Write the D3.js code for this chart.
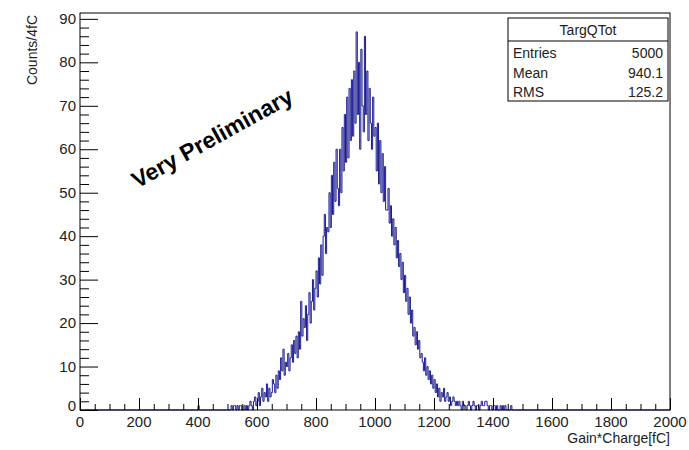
<!DOCTYPE html>
<html>
<head>
<meta charset="utf-8">
<script src="https://cdn.jsdelivr.net/npm/d3@7"></script>
<style>
  body { margin: 0; background: #fff; }
  text { font-family: "Liberation Sans", Arial, sans-serif; }
</style>
</head>
<body>
<svg id="chart" width="689" height="450"></svg>
<script>
// Histogramme TargQTot : bins de 4 fC, de 400 a 1480 fC (zéro ailleurs)
const binWidth = 4
const firstBin = 400
const counts = [
    1, 0, 0, 0, 0, 0, 0, 0, 0, 0,
    0, 0, 0, 0, 0, 0, 0, 0, 0, 0,
    0, 0, 0, 0, 0, 0, 0, 0, 1, 0,
    1, 1, 0, 1, 0, 1, 1, 0, 0, 1,
    0, 1, 0, 1, 2, 1, 0, 2, 3, 1,
    2, 4, 1, 3, 5, 2, 4, 3, 6, 2,
    5, 3, 4, 7, 6, 4, 8, 5, 9, 7,
    12, 9, 14, 8, 11, 10, 13, 9, 12, 15,
    11, 16, 13, 17, 12, 18, 14, 25, 17, 21,
    19, 24, 16, 22, 27, 20, 25, 30, 23, 28,
    32, 26, 35, 29, 38, 31, 40, 45, 36, 42,
    41, 50, 42, 54, 45, 57, 48, 60, 51, 47,
    60, 50, 65, 55, 68, 57, 72, 58, 74, 62,
    76, 63, 78, 66, 87, 68, 80, 60, 83, 70,
    64, 86, 68, 78, 62, 74, 66, 60, 72, 63,
    65, 55, 66, 52, 62, 50, 59, 48, 56, 46,
    46, 51, 43, 47, 40, 44, 38, 42, 35, 39,
    33, 36, 30, 34, 27, 31, 25, 28, 22, 26,
    20, 23, 17, 19, 15, 18, 14, 16, 12, 13,
    11, 9, 12, 8, 10, 7, 9, 6, 8, 5,
    7, 4, 6, 3, 5, 2, 4, 3, 5, 2,
    3, 4, 2, 3, 1, 2, 3, 2, 1, 2,
    1, 2, 1, 0, 2, 1, 1, 0, 1, 2,
    1, 0, 1, 2, 1, 0, 1, 1, 0, 1,
    2, 1, 1, 2, 2, 1, 0, 1, 1, 0,
    1, 1, 0, 1, 0, 0, 1, 0, 1, 0,
    1, 0, 0, 0, 0, 1, 0, 0, 0, 0
]

const xTicks = [0, 200, 400, 600, 800, 1000, 1200, 1400, 1600, 1800, 2000]
const yTicks = [0, 10, 20, 30, 40, 50, 60, 70, 80, 90]
const statsLabels = ["Entries", "Mean", "RMS"]
const statsValues = ["5000", "940.1", "125.2"]

const svg = d3.select("#chart")

const frame = { left: 80, right: 670, top: 13, bottom: 410 }

const x = d3.scaleLinear()
    .domain([0, 2000])
    .range([frame.left, frame.right])

const y = d3.scaleLinear()
    .domain([0, 91.35])
    .range([frame.bottom, frame.top])

// Histogramme (ligne en escalier)
const pts = [[0, 0], [firstBin, 0]]
counts.forEach((c, i) => pts.push([firstBin + i * binWidth, c]))
pts.push([firstBin + counts.length * binWidth, 0])
pts.push([2000, 0])

const line = d3.line()
    .x(d => x(d[0]))
    .y(d => y(d[1]))
    .curve(d3.curveStepAfter)

svg.append("path")
    .attr("d", line(pts))
    .attr("fill", "none")
    .attr("stroke", "#1a1a8f")
    .attr("stroke-width", 1)

// Cadre
svg.append("rect")
    .attr("x", frame.left)
    .attr("y", frame.top)
    .attr("width", frame.right - frame.left)
    .attr("height", frame.bottom - frame.top)
    .attr("fill", "none")
    .attr("stroke", "black")
    .attr("stroke-width", 1)

// Axe X : ticks vers l'intérieur
const xAxis = svg.append("g")
    .attr("transform", `translate(0,${frame.bottom})`)
xAxis.call(d3.axisTop(x).tickValues(d3.range(0, 2001, 50)).tickSize(6).tickFormat(""))
xAxis.call(g => g.selectAll(".tick line").filter(d => d % 200 === 0).attr("y2", -12))
xAxis.select(".domain").remove()
xAxis.selectAll(".tick line").attr("stroke", "black")

svg.append("g")
    .selectAll("text")
    .data(xTicks)
    .enter()
    .append("text")
    .attr("x", d => x(d))
    .attr("y", frame.bottom + 17)
    .attr("text-anchor", "middle")
    .attr("font-size", 15)
    .attr("fill", "#222")
    .text(d => d)

// Axe Y : ticks vers l'intérieur
const yAxis = svg.append("g")
    .attr("transform", `translate(${frame.left},0)`)
yAxis.call(d3.axisRight(y).tickValues(d3.range(0, 91, 2)).tickSize(9).tickFormat(""))
yAxis.call(g => g.selectAll(".tick line").filter(d => d % 10 === 0).attr("x2", 18))
yAxis.select(".domain").remove()
yAxis.selectAll(".tick line").attr("stroke", "black")

svg.append("g")
    .selectAll("text")
    .data(yTicks)
    .enter()
    .append("text")
    .attr("x", frame.left - 4)
    .attr("y", d => y(d) + 5 - (d === 0 ? 4 : 0))
    .attr("text-anchor", "end")
    .attr("font-size", 15)
    .attr("fill", "#222")
    .text(d => d)

// Titres des axes
svg.append("text")
    .attr("transform", `translate(37,${frame.top + 2}) rotate(-90)`)
    .attr("text-anchor", "end")
    .attr("font-size", 14)
    .attr("fill", "#222")
    .text("Counts/4fC")

svg.append("text")
    .attr("x", frame.right)
    .attr("y", 443)
    .attr("text-anchor", "end")
    .attr("font-size", 14)
    .attr("fill", "#222")
    .text("Gain*Charge[fC]")

// Texte "Very Preliminary"
svg.append("text")
    .attr("transform", "translate(216,145) rotate(-29)")
    .attr("text-anchor", "middle")
    .attr("font-size", 23)
    .attr("font-weight", "bold")
    .attr("fill", "black")
    .text("Very Preliminary")

// Boîte de statistiques
const box = { x: 508, y: 18, w: 160, h: 83 }
const stats = svg.append("g")
stats.append("rect")
    .attr("x", box.x)
    .attr("y", box.y)
    .attr("width", box.w)
    .attr("height", box.h)
    .attr("fill", "white")
    .attr("stroke", "black")
stats.append("line")
    .attr("x1", box.x)
    .attr("x2", box.x + box.w)
    .attr("y1", box.y + 23)
    .attr("y2", box.y + 23)
    .attr("stroke", "black")
stats.append("text")
    .attr("x", box.x + box.w / 2)
    .attr("y", box.y + 17)
    .attr("text-anchor", "middle")
    .attr("font-size", 14)
    .attr("fill", "#222")
    .text("TargQTot")

statsLabels.forEach((lab, i) => {
    stats.append("text")
        .attr("x", box.x + 5)
        .attr("y", box.y + 40 + i * 19.5)
        .attr("font-size", 14)
        .attr("fill", "#222")
        .text(lab)
    stats.append("text")
        .attr("x", box.x + box.w - 5)
        .attr("y", box.y + 40 + i * 19.5)
        .attr("text-anchor", "end")
        .attr("font-size", 14)
        .attr("fill", "#222")
        .text(statsValues[i])
})
</script>
</body>
</html>
